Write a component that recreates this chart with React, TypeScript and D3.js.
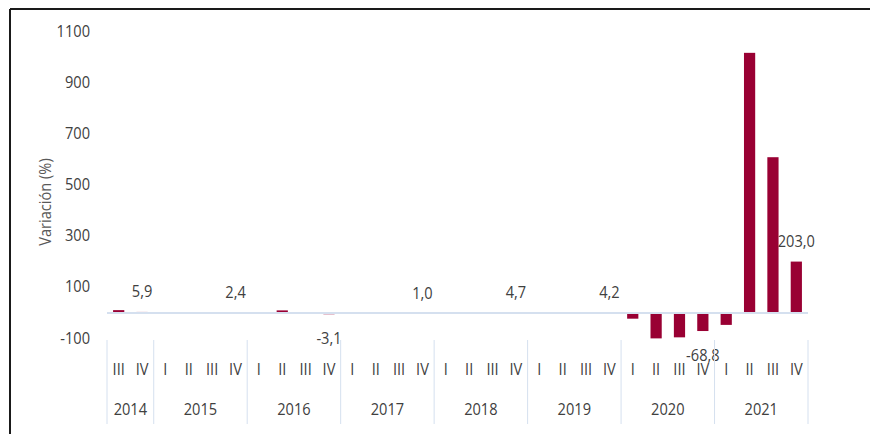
import React from "react";
import * as d3 from "d3";

const years = ["2014", "2015", "2016", "2017", "2018", "2019", "2020", "2021"];
const quarterNames = ["I", "II", "III", "IV"];
const quarterKeys = [
  "2014-III", "2014-IV",
  "2015-I", "2015-II", "2015-III", "2015-IV",
  "2016-I", "2016-II", "2016-III", "2016-IV",
  "2017-I", "2017-II", "2017-III", "2017-IV",
  "2018-I", "2018-II", "2018-III", "2018-IV",
  "2019-I", "2019-II", "2019-III", "2019-IV",
  "2020-I", "2020-II", "2020-III", "2020-IV",
  "2021-I", "2021-II", "2021-III", "2021-IV",
];
const values = [
  13.0, 5.9,
  3.1, 1.8, 2.6, 2.4,
  1.5, 12.0, -1.2, -3.1,
  0.8, 1.3, 0.6, 1.0,
  2.2, 3.5, 4.1, 4.7,
  3.9, 4.4, 4.0, 4.2,
  -20.5, -97.6, -93.5, -68.8,
  -44.8, 1020.0, 611.5, 203.0,
];
const labeledKeys = ["2014-IV", "2015-IV", "2016-IV", "2017-IV", "2018-IV", "2019-IV", "2020-IV", "2021-IV"];
const yTicks = [-100, 100, 300, 500, 700, 900, 1100];

const W = 870;
const H = 434;
const FONT = "'Open Sans', 'Noto Sans', sans-serif";
const TEXT = "#404040";
const BAR = "#990033";
const GRID = "#d5e0ef";

function T(props: {
  x: number;
  y: number;
  anchor?: "start" | "middle" | "end";
  rotate?: number;
  fill?: string;
  children: React.ReactNode;
}) {
  const { x, y, anchor = "middle", rotate = 0, fill = TEXT, children } = props;
  return (
    <text
      transform={`translate(${x},${y}) rotate(${rotate}) scale(0.86,1)`}
      textAnchor={anchor}
      dominantBaseline="middle"
      fontFamily={FONT}
      fontSize={17}
      fill={fill}
    >
      {children}
    </text>
  );
}

export default function App() {
  const x = d3
    .scaleBand<string>()
    .domain(quarterKeys)
    .range([107, 808])
    .paddingInner(0.52)
    .paddingOuter(0.26);
  const y = d3.scaleLinear().domain([-100, 1100]).range([339, 32.4]);
  const bw = x.bandwidth();
  const step = x.step();
  const gap = (step - bw) / 2;

  const quarterOf = (k: string) => k.split("-")[1];
  const yearOf = (k: string) => k.split("-")[0];

  const yearBounds = years.map((yr) => {
    const ks = quarterKeys.filter((k) => yearOf(k) === yr);
    const x0 = (x(ks[0]) as number) - gap;
    const x1 = (x(ks[ks.length - 1]) as number) + bw + gap;
    return { yr, x0, x1 };
  });
  const dividers = [yearBounds[0].x0, ...yearBounds.map((b) => b.x1)];

  const fmt = (v: number) => v.toFixed(1).replace(".", ",");

  return (
    <div>
      <style>{`body{margin:0;}`}</style>
      <svg width={W} height={H} style={{ display: "block", background: "#fff" }}>
        {/* frame */}
        <line x1={10} y1={9} x2={W} y2={9} stroke="#1a1a1a" strokeWidth={2} />
        <line x1={10} y1={9} x2={10} y2={H} stroke="#1a1a1a" strokeWidth={2} />

        {/* y axis title */}
        <T x={46} y={202} rotate={-90} fill="#595959">
          Variación (%)
        </T>

        {/* y tick labels */}
        {yTicks.map((t) => (
          <T key={t} x={90} y={y(t)} anchor="end">
            {t}
          </T>
        ))}

        {/* bars */}
        {quarterKeys.map((k, i) => {
          const v = values[i];
          const y0 = y(0);
          const yv = y(v);
          return (
            <rect
              key={k}
              x={x(k)}
              y={Math.min(y0, yv)}
              width={bw}
              height={Math.abs(yv - y0)}
              fill={BAR}
            />
          );
        })}

        {/* zero line */}
        <line
          x1={dividers[0]}
          x2={dividers[dividers.length - 1]}
          y1={y(0) - 0.5}
          y2={y(0) - 0.5}
          stroke={GRID}
          strokeWidth={2}
        />

        {/* data labels */}
        {quarterKeys.map((k, i) => {
          if (!labeledKeys.includes(k)) return null;
          const v = values[i];
          const cx = (x(k) as number) + bw / 2;
          const cy = v >= 0 ? y(v) - 19 : y(v) + 25;
          return (
            <T key={"l" + k} x={cx} y={cy}>
              {fmt(v)}
            </T>
          );
        })}

        {/* category axis dividers */}
        {dividers.map((dx, i) => (
          <line key={"d" + i} x1={dx} x2={dx} y1={340} y2={424} stroke={GRID} strokeWidth={1} />
        ))}

        {/* quarter labels */}
        {quarterKeys.map((k) => (
          <T key={"q" + k} x={(x(k) as number) + bw / 2} y={370}>
            {quarterNames.includes(quarterOf(k)) ? quarterOf(k) : ""}
          </T>
        ))}

        {/* year labels */}
        {yearBounds.map((b) => (
          <T key={"y" + b.yr} x={(b.x0 + b.x1) / 2} y={410}>
            {b.yr}
          </T>
        ))}
      </svg>
    </div>
  );
}
